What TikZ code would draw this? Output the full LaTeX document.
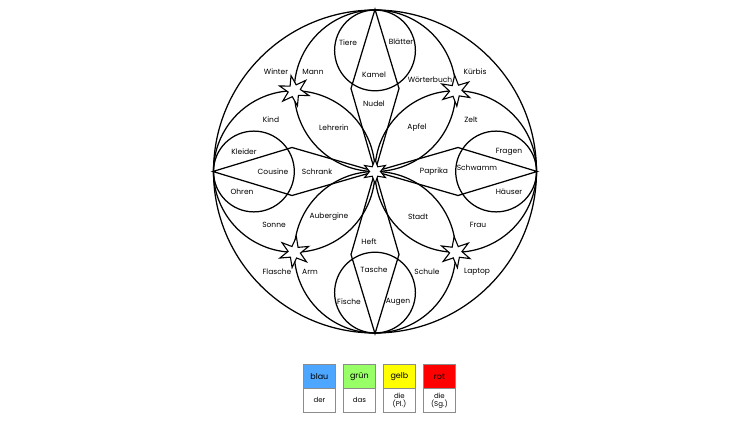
\documentclass[tikz,border=0pt]{standalone}
\usepackage{fontspec}
\setmainfont{Poppins}
\usetikzlibrary{shapes.geometric}
\definecolor{cblau}{RGB}{77,166,255}
\definecolor{cgruen}{RGB}{153,255,102}
\definecolor{cgelb}{RGB}{255,255,0}
\definecolor{crot}{RGB}{255,0,0}
\definecolor{cframe}{RGB}{140,140,140}
\begin{document}
\begin{tikzpicture}[x=1pt,y=-1pt,
  ln/.style={line width=1.25pt, black, line join=miter},
  ring/.style={circle, draw, line width=1.25pt, inner sep=0pt},
  lbl/.style={font=\fontsize{7.5}{8.5}\selectfont, inner sep=0pt},
  bigstar/.style={star, star points=6, star point ratio=2.5, draw, fill=white, line width=1.1pt, inner sep=0pt, minimum size=31pt},
  midstar/.style={star, star points=6, star point ratio=2.2, draw, fill=white, line width=1.1pt, inner sep=0pt, minimum size=24pt},
  colbox/.style={draw=cframe, line width=0.8pt, minimum width=32pt, minimum height=24pt, anchor=north west, inner sep=0pt, font=\fontsize{8}{9}\selectfont},
  whbox/.style={colbox, fill=white, align=center, font=\fontsize{7}{8}\selectfont}]
\useasboundingbox (0,0) rectangle (750,422);
\fill[white] (0,0) rectangle (750,422);
% circles
\node[ring, minimum size=323pt] (big) at (375,171.5) {};
\node[ring, minimum size=161.5pt] (mt) at (375,90.75) {};
\node[ring, minimum size=161.5pt] (ml) at (294.25,171.5) {};
\node[ring, minimum size=161.5pt] (mb) at (375,252.25) {};
\node[ring, minimum size=161.5pt] (mr) at (455.75,171.5) {};
\node[ring, minimum size=80.8pt] (st) at (375,50.4) {};
\node[ring, minimum size=80.8pt] (sl) at (253.9,171.5) {};
\node[ring, minimum size=80.8pt] (sb) at (375,292.6) {};
\node[ring, minimum size=80.8pt] (sr) at (496.1,171.5) {};
% kites
\coordinate (cen) at (375,171.5);
\coordinate (ktl) at (351,88.5);
\coordinate (ktr) at (399,88.5);
\coordinate (kbl) at (351,254.5);
\coordinate (kbr) at (399,254.5);
\coordinate (kla) at (292,147.5);
\coordinate (klb) at (292,195.5);
\coordinate (kra) at (458,147.5);
\coordinate (krb) at (458,195.5);
\draw[ln] (big.north) -- (ktl) -- (cen) -- (ktr) -- cycle;
\draw[ln] (big.south) -- (kbl) -- (cen) -- (kbr) -- cycle;
\draw[ln] (big.west) -- (kla) -- (cen) -- (klb) -- cycle;
\draw[ln] (big.east) -- (kra) -- (cen) -- (krb) -- cycle;
% labels
\node[lbl] (w1) at (348,43) {Tiere};
\node[lbl] (w2) at (401,42) {Blätter};
\node[lbl] (w3) at (374,75) {Kamel};
\node[lbl] (w4) at (374,104) {Nudel};
\node[lbl] (w5) at (276,72) {Winter};
\node[lbl] (w6) at (313,72) {Mann};
\node[lbl] (w7) at (430,80) {Wörterbuch};
\node[lbl] (w8) at (475,72) {Kürbis};
\node[lbl] (w9) at (271,120) {Kind};
\node[lbl] (w10) at (334,128) {Lehrerin};
\node[lbl] (w11) at (417,128) {Apfel};
\node[lbl] (w12) at (471,120) {Zelt};
\node[lbl] (w13) at (244,152) {Kleider};
\node[lbl] (w14) at (509,152) {Fragen};
\node[lbl] (w15) at (273,172) {Cousine};
\node[lbl] (w16) at (317,172) {Schrank};
\node[lbl] (w17) at (434,172) {Paprika};
\node[lbl] (w18) at (477,168) {Schwamm};
\node[lbl] (w19) at (242,192) {Ohren};
\node[lbl] (w20) at (509,192) {Häuser};
\node[lbl] (w21) at (329,217) {Aubergine};
\node[lbl] (w22) at (418,217) {Stadt};
\node[lbl] (w23) at (274,225) {Sonne};
\node[lbl] (w24) at (478,225) {Frau};
\node[lbl] (w25) at (369,242) {Heft};
\node[lbl] (w26) at (277,272) {Flasche};
\node[lbl] (w27) at (310,272) {Arm};
\node[lbl] (w28) at (374,270) {Tasche};
\node[lbl] (w29) at (427,272) {Schule};
\node[lbl] (w30) at (477,272) {Laptop};
\node[lbl] (w31) at (349,302) {Fische};
\node[lbl] (w32) at (398,302) {Augen};
% stars
\node[bigstar, shape border rotate=12] (s1) at (294.25,90.75) {};
\node[bigstar, shape border rotate=4] (s2) at (455.75,90.75) {};
\node[bigstar, shape border rotate=-8] (s3) at (294.25,252.25) {};
\node[bigstar, shape border rotate=6] (s4) at (455.75,252.25) {};
\node[midstar] (s0) at (cen) {};
% legend
\node[colbox, fill=cblau] (b1) at (303,364) {blau};
\node[whbox] (d1) at (303,388) {der};
\node[colbox, fill=cgruen] (b2) at (343,364) {grün};
\node[whbox] (d2) at (343,388) {das};
\node[colbox, fill=cgelb] (b3) at (383,364) {gelb};
\node[whbox] (d3) at (383,388) {die\\(Pl.)};
\node[colbox, fill=crot] (b4) at (423,364) {rot};
\node[whbox] (d4) at (423,388) {die\\(Sg.)};
\end{tikzpicture}
\end{document}
